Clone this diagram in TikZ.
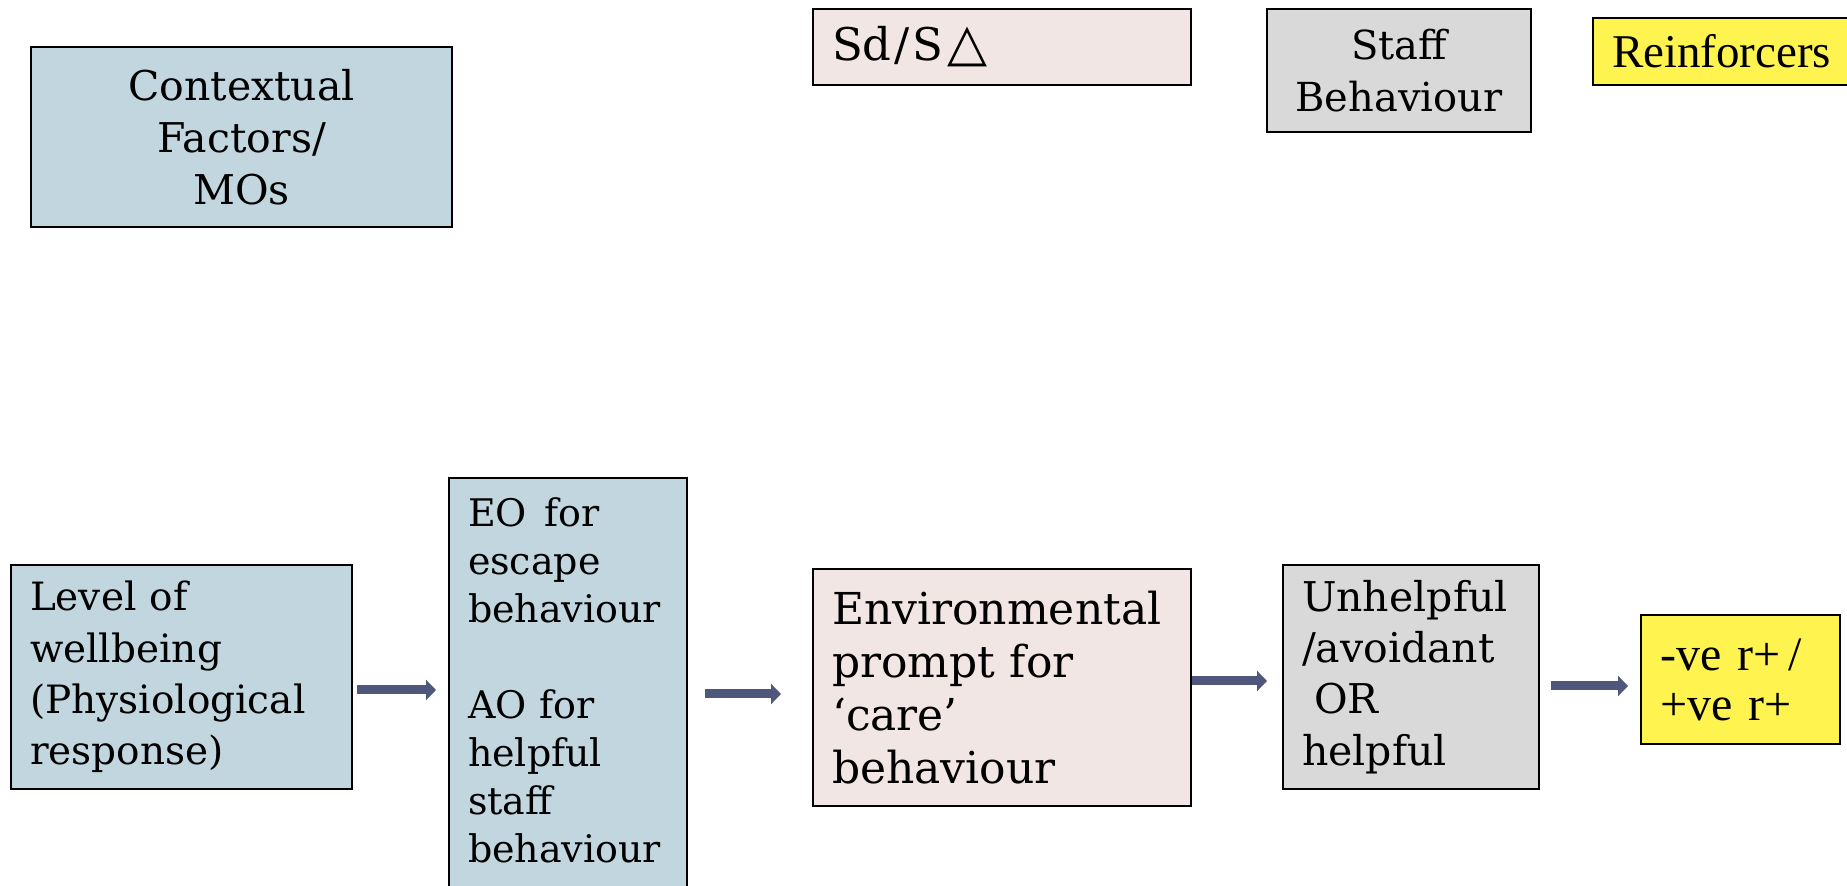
\documentclass[tikz,border=0pt]{standalone}
\usepackage{fontspec}
\setmainfont{DejaVu Serif}
\newfontfamily\timesfont{Liberation Serif}
\newfontfamily\symbfont{DejaVu Sans}
\usetikzlibrary{arrows.meta}

\definecolor{mofill}{RGB}{193,214,222}
\definecolor{sdfill}{RGB}{242,230,228}
\definecolor{stafffill}{RGB}{217,217,217}
\definecolor{reinffill}{RGB}{255,243,80}
\definecolor{arrowcol}{RGB}{79,88,124}

\begin{document}
\begin{tikzpicture}[x=0.5pt, y=-0.5pt,
  box/.style={draw=black, line width=1pt, inner ysep=0pt, inner xsep=9.5pt},
  lbox/.style={box, align=left},
  cbox/.style={box, align=center},
  flow/.style={draw=arrowcol, line width=4.5pt, -{Triangle[length=5pt, width=10pt]}}
]
\useasboundingbox (0,0) rectangle (1847,886);
\begin{scope}
\clip (0,0) rectangle (1847,886);

% Top row
\node[cbox, fill=mofill, minimum width=210.5pt, minimum height=90pt,
  font=\fontsize{20.5}{26}\selectfont] (ctx) at (241.5,137)
  {Contextual\\Factors/\\MOs};
\node[lbox, fill=sdfill, minimum width=189pt, minimum height=38pt, text width=170pt,
  font=\fontsize{22.5}{26}\selectfont] (sd) at (1002,47)
  {Sd\kern1.5pt/\kern1.5pt S\kern2pt{\symbfont\fontsize{26}{26}\selectfont △}};
\node[cbox, fill=stafffill, minimum width=132pt, minimum height=61.5pt,
  font=\fontsize{20}{26}\selectfont] (staff) at (1399,70.5)
  {Staff\\Behaviour};
\node[lbox, fill=reinffill, minimum width=160pt, minimum height=33.5pt, text width=141pt,
  font=\timesfont\fontsize{23.5}{24}\selectfont] (reinf) at (1753,51.5) {Reinforcers};

% Bottom row
\node[lbox, fill=mofill, minimum width=170.5pt, minimum height=112pt, text width=151.5pt,
  font=\fontsize{19.5}{25.6}\selectfont] (lvl) at (181.5,677)
  {\rule{0pt}{3pt}Level of\\wellbeing\\(Physiological\\response)};
\node[lbox, fill=mofill, minimum width=119pt, minimum height=207pt, text width=100pt,
  font=\fontsize{19}{24}\selectfont] (eo) at (568,685)
  {EO\hspace{9pt}for\\escape\\behaviour\\[24pt]AO for\\helpful\\staff\\behaviour\rule[-5pt]{0pt}{0pt}};
\node[lbox, fill=sdfill, minimum width=189pt, minimum height=118.5pt, text width=170pt,
  font=\fontsize{22}{26.5}\selectfont] (env) at (1002,687.5)
  {Environmental\\prompt for\\‘care’\\behaviour};
\node[lbox, fill=stafffill, minimum width=128pt, minimum height=112pt, text width=109pt,
  font=\fontsize{20.5}{25.6}\selectfont] (unh) at (1411,677)
  {Unhelpful\\/avoidant\\\hspace*{6pt}OR\\helpful};
\node[lbox, fill=reinffill, minimum width=99.5pt, minimum height=64.5pt, text width=80pt,
  font=\timesfont\fontsize{24}{25}\selectfont] (ve) at (1740.5,679.5)
  {-ve r+\,/\\+ve r+};

% Arrows
\draw[flow, shorten <=2pt, shorten >=6pt]
  ([yshift=-6.5pt]lvl.east) -- ([yshift=-6.5pt]lvl.east -| eo.west);
\draw[flow, shorten <=8.5pt, shorten >=15.5pt]
  ([yshift=-4.5pt]eo.east) -- ([yshift=-4.5pt]eo.east -| env.west);
\draw[flow, shorten >=7.5pt]
  ([yshift=3.25pt]env.east) -- ([yshift=3.25pt]env.east -| unh.west);
\draw[flow, shorten <=5.5pt, shorten >=6pt]
  ([yshift=-4.5pt]unh.east) -- ([yshift=-4.5pt]unh.east -| ve.west);
\end{scope}
\end{tikzpicture}
\end{document}
